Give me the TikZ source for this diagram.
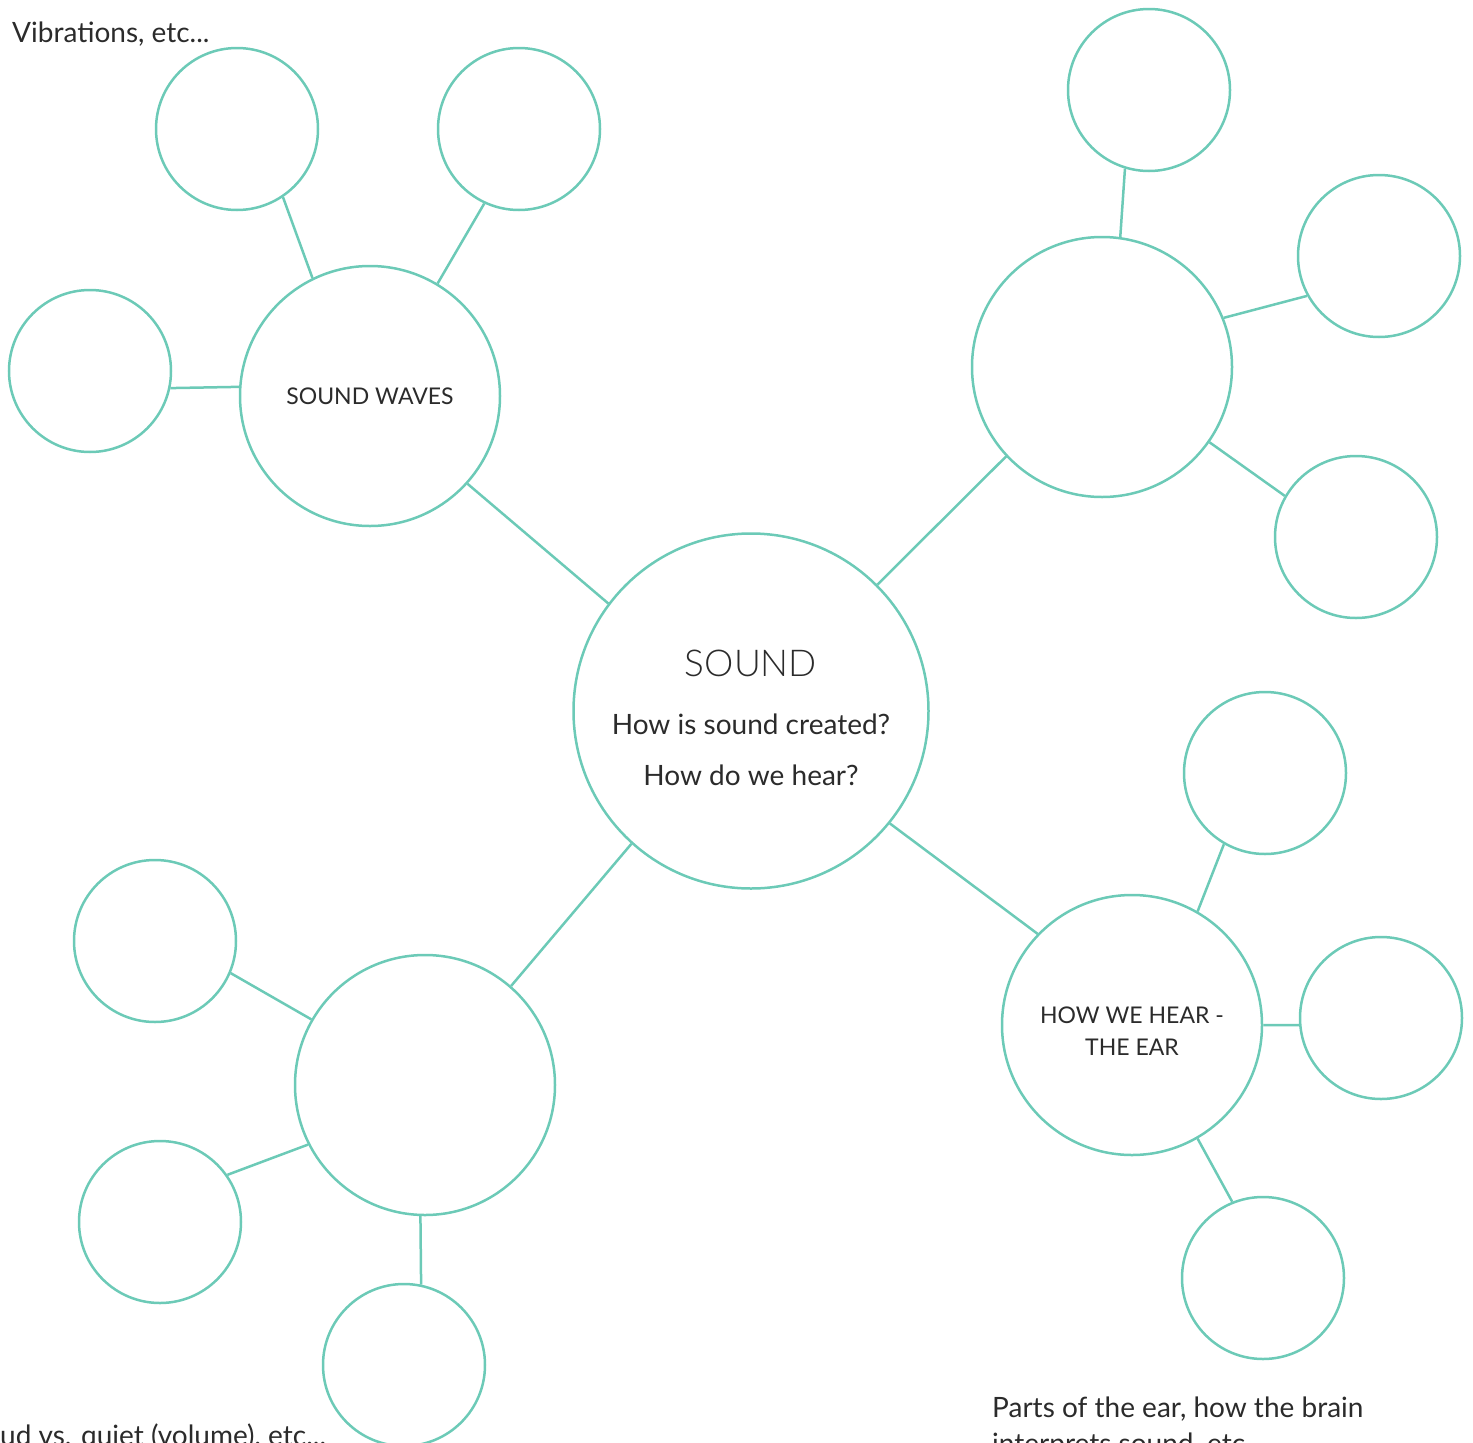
\documentclass[tikz,border=0pt]{standalone}
\usepackage{fontspec}
\setmainfont{Lato}
\newfontfamily\lightfont{Lato Light}
\usetikzlibrary{positioning}
\definecolor{mint}{HTML}{6CCAB7}
\definecolor{ink}{HTML}{2B2B2B}
\tikzset{
x=1pt, y=-1pt, % one unit per pixel, y runs downwards
every node/.style={text=ink, font=\fontsize{28}{34}\selectfont},
bubble/.style={circle, draw=mint, line width=2.5pt, inner sep=0pt, align=center}, % every circle
hub/.style={bubble, minimum size=355pt}, % the middle circle
topic/.style={bubble, minimum size=260pt, font=\fontsize{23}{32}\selectfont}, % the four big circles
leaf/.style={bubble, minimum size=162pt}, % the small empty circles
note/.style={anchor=base west, inner sep=0pt, align=left, font=\fontsize{28}{36}\selectfont}, % texts round the edge
link/.style={draw=mint, line width=2.5pt},
}

\begin{document}
\begin{tikzpicture}
                \useasboundingbox (0,0) rectangle (1473,1443);
                \clip (0,0) rectangle (1473,1443);
                \node[hub] (snd) at (751,711) {\rule{0pt}{41pt}{\lightfont\fontsize{37}{37}\selectfont SOUND}\\[24pt] How is sound created?\\[17pt] How do we hear?};
                \node[topic] (sw) at (370,396) {SOUND WAVES};
                \node[topic] (tr) at (1102,367) {};
                \node[topic] (bl) at (425,1085) {};
                \node[topic] (he) at (1132,1025) {\rule{0pt}{29pt}HOW WE HEAR -\\THE EAR};
                \node[leaf] (s1) at (237,129) {};
                \node[leaf] (s2) at (519,129) {};
                \node[leaf] (s3) at (90,371) {};
                \node[leaf] (t1) at (1149,90) {};
                \node[leaf] (t2) at (1379,256) {};
                \node[leaf] (t3) at (1356,537) {};
                \node[leaf] (b1) at (155,941) {};
                \node[leaf] (b2) at (160,1222) {};
                \node[leaf] (b3) at (404,1365) {};
                \node[leaf] (h1) at (1265,773) {};
                \node[leaf] (h2) at (1381,1018) {};
                \node[leaf] (h3) at (1263,1278) {};
                \node[note] (vib) at (12,42) {Vibrations, etc...};
                \node[note] (vol) at (0,1445) {ud vs. quiet (volume), etc...};
                \node[note] (ear) at (992,1453) {Parts of the ear, how the brain\\interprets sound, etc...};
                \draw[link]
                    (snd.143) edge (sw.318)
                    (sw.116) edge (s1.304)
                    (sw.59) edge (s2.245)
                    (sw.176) edge (s3.348)
                    (snd.45) edge (tr.223)
                    (tr.82) edge (t1.253)
                    (tr.22) edge (t2.209)
                    (tr.325) edge (t3.150)
                    (snd.228) edge (bl.49)
                    (bl.150) edge (b1.337)
                    (bl.207) edge (b2.35)
                    (bl.268) edge (b3.78)
                    (snd.321) edge (he.136)
                    (he.60) edge (h1.240)
                    (he.0) edge (h2.185)
                    (he.300) edge (h3.112)
                    ;
\end{tikzpicture}
\end{document}
